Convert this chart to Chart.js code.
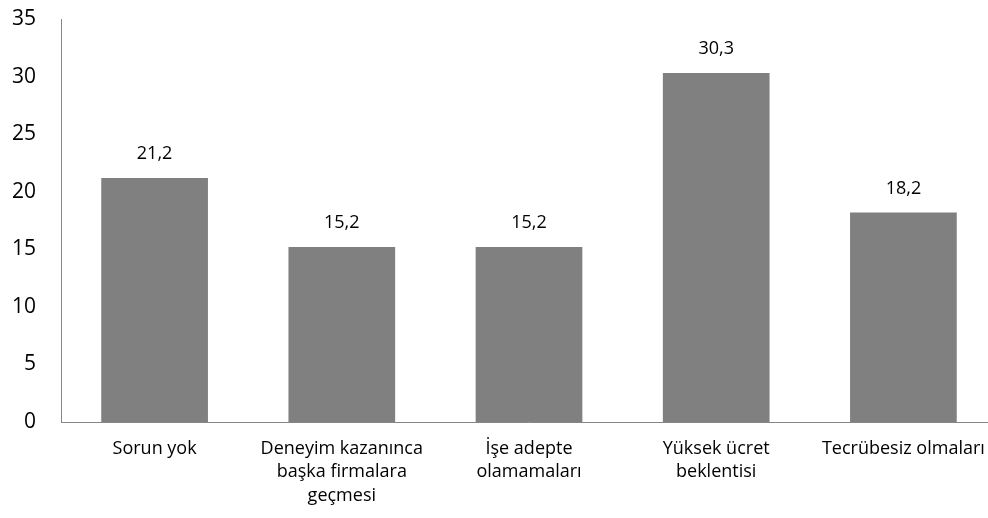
<!DOCTYPE html>
<html><head><meta charset="utf-8">
<script src="https://cdn.jsdelivr.net/npm/chart.js@4/dist/chart.umd.min.js"></script>
<style>
html,body{margin:0;padding:0;background:#fff;overflow:hidden;width:988px;height:518px;}
#wrap{width:1000px;height:518px;position:relative;}
</style></head><body>
<div id="wrap"><canvas id="c" width="1000" height="518"></canvas></div>
<script>
const categories = [
  ["Sorun yok"],
  ["Deneyim kazanınca", "başka firmalara", "geçmesi"],
  ["İşe adepte", "olamamaları"],
  ["Yüksek ücret", "beklentisi"],
  ["Tecrübesiz olmaları"]
];
const values = [21.2, 15.2, 15.2, 30.3, 18.2];
const yTicks = [0, 5, 10, 15, 20, 25, 30, 35];

const FONT = "'Open Sans', 'Liberation Sans', sans-serif";

const dataLabels = {
  id: 'dataLabels',
  afterDatasetsDraw(chart) {
    const ctx = chart.ctx;
    const meta = chart.getDatasetMeta(0);
    ctx.save();
    ctx.font = "18px " + FONT;
    ctx.fillStyle = "#000";
    ctx.textAlign = "center";
    ctx.textBaseline = "middle";
    meta.data.forEach((bar, i) => {
      ctx.fillText(values[i].toFixed(1).replace('.', ','), bar.x, bar.y - 24);
    });
    ctx.restore();
  }
};

new Chart(document.getElementById('c'), {
  type: 'bar',
  data: {
    labels: categories,
    datasets: [{
      data: values,
      backgroundColor: '#808080',
      borderWidth: 0,
      barPercentage: 0.57,
      categoryPercentage: 1.0
    }]
  },
  options: {
    responsive: false,
    animation: false,
    devicePixelRatio: 1,
    layout: { padding: { top: 19, left: 0, right: 3, bottom: 0 } },
    plugins: { legend: { display: false }, tooltip: { enabled: false } },
    scales: {
      x: {
        grid: { display: false, drawTicks: false },
        border: { color: '#868686', width: 1 },
        ticks: { color: '#000', font: { family: FONT, size: 18, lineHeight: 1.3 }, padding: 15, maxRotation: 0, autoSkip: false },
        afterFit(s) { s.height = 96; s.paddingLeft = 0; s.paddingRight = 0; }
      },
      y: {
        min: 0, max: 35,
        afterBuildTicks(s) { s.ticks = yTicks.map(v => ({ value: v })); },
        grid: { display: false, drawTicks: false },
        border: { color: '#868686', width: 1 },
        ticks: { color: '#000', font: { family: FONT, size: 21 }, padding: 25 },
        afterFit(s) { s.width = 61; s.paddingTop = 0; s.paddingBottom = 0; }
      }
    }
  },
  plugins: [dataLabels]
});
</script>
</body></html>
